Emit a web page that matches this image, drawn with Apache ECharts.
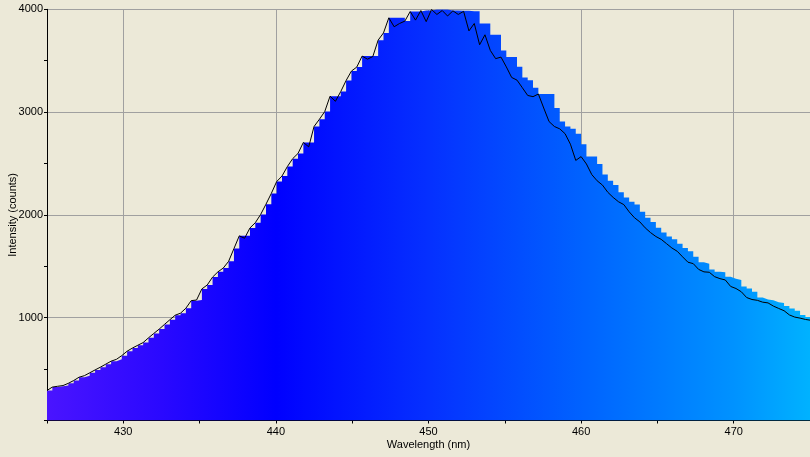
<!DOCTYPE html>
<html>
<head>
<meta charset="utf-8">
<script src="https://cdn.jsdelivr.net/npm/echarts@6/dist/echarts.min.js"></script>
<style>html,body{margin:0;padding:0;background:#ECE9D8;}#c{width:810px;height:457px;}</style>
</head>
<body>
<div id="c"></div>
<script>
// Wavelength grid (nm)
var wavelengths = [
425.00,425.35,425.70,426.05,426.40,426.75,427.10,427.45,427.80,428.15,
428.50,428.85,429.20,429.55,429.90,430.25,430.60,430.95,431.30,431.65,
432.00,432.35,432.70,433.05,433.40,433.75,434.10,434.45,434.80,435.15,
435.50,435.85,436.20,436.55,436.90,437.25,437.60,437.95,438.30,438.65,
439.00,439.35,439.70,440.05,440.40,440.75,441.10,441.45,441.80,442.15,
442.50,442.85,443.20,443.55,443.90,444.25,444.60,444.95,445.30,445.65,
446.00,446.35,446.70,447.05,447.40,447.75,448.10,448.45,448.80,449.15,
449.50,449.85,450.20,450.55,450.90,451.25,451.60,451.95,452.30,452.65,
453.00,453.35,453.70,454.05,454.40,454.75,455.10,455.45,455.80,456.15,
456.50,456.85,457.20,457.55,457.90,458.25,458.60,458.95,459.30,459.65,
460.00,460.35,460.70,461.05,461.40,461.75,462.10,462.45,462.80,463.15,
463.50,463.85,464.20,464.55,464.90,465.25,465.60,465.95,466.30,466.65,
467.00,467.35,467.70,468.05,468.40,468.75,469.10,469.45,469.80,470.15,
470.50,470.85,471.20,471.55,471.90,472.25,472.60,472.95,473.30,473.65,
474.00,474.35,474.70,475.05
];
// Measured intensity (black trace)
var counts = [
292,325,333,340,362,389,421,436,464,492,
519,548,577,595,631,674,705,732,758,804,
847,889,935,980,1024,1044,1092,1166,1172,1280,
1318,1395,1446,1483,1548,1672,1796,1773,1873,1924,
2004,2104,2209,2324,2378,2470,2547,2598,2705,2662,
2860,2930,3005,3155,3105,3200,3307,3399,3438,3545,
3515,3540,3700,3770,3917,3830,3862,3885,3978,3895,
3988,3880,3998,3950,3988,3935,3985,3950,3980,3790,
3862,3655,3752,3600,3520,3535,3440,3337,3311,3237,
3162,3150,3176,3040,2908,2860,2837,2790,2688,2530,
2567,2495,2392,2332,2290,2220,2170,2128,2100,2030,
1972,1932,1874,1828,1790,1762,1720,1678,1646,1592,
1540,1526,1470,1446,1442,1399,1380,1367,1304,1284,
1252,1196,1177,1169,1151,1144,1113,1090,1068,1027,
1006,996,983,975
];
// Coloured stepped fill heights
var fillCounts = [
292,325,333,340,362,389,421,436,464,492,
519,548,577,595,631,674,705,732,758,804,
847,889,935,980,1024,1044,1092,1166,1172,1280,
1318,1395,1446,1483,1548,1672,1796,1796,1873,1924,
2004,2104,2209,2324,2378,2470,2547,2598,2705,2705,
2860,2930,3005,3155,3155,3200,3307,3399,3438,3545,
3545,3545,3700,3770,3917,3917,3917,3885,3978,3978,
3988,3988,3998,3998,3998,3988,3988,3985,3985,3980,
3980,3862,3862,3752,3752,3600,3535,3535,3440,3337,
3311,3237,3176,3176,3176,3040,2908,2860,2837,2790,
2688,2567,2567,2495,2392,2332,2290,2220,2170,2128,
2100,2030,1972,1932,1874,1828,1790,1762,1720,1678,
1646,1592,1540,1526,1470,1446,1442,1399,1380,1367,
1304,1284,1252,1196,1177,1169,1151,1144,1113,1090,
1068,1027,1006,996
];
var yTicks = [1000, 2000, 3000, 4000];
var xLabelTicks = [430, 440, 450, 460, 470];

var linePts = wavelengths.map(function (w, i) { return [w, counts[i]]; });
var fillPts = wavelengths.map(function (w, i) { return [w, fillCounts[i]]; });

var FONT = 'Liberation Sans';
var chart = echarts.init(document.getElementById('c'), null, {renderer: 'canvas'});
chart.setOption({
  backgroundColor: '#ECE9D8',
  animation: false,
  grid: {left: 47, right: 0, top: 9.3, bottom: 36.5, outerBoundsMode: 'none', containLabel: false},
  xAxis: {
    type: 'value', min: 425, max: 475, interval: 5,
    name: 'Wavelength (nm)', nameLocation: 'middle', nameGap: 19, nameMoveOverlap: false,
    nameTextStyle: {color: '#000', fontFamily: FONT, fontSize: 11},
    axisLine: {show: true, onZero: false, lineStyle: {color: '#000', width: 1}},
    axisTick: {show: true, inside: false, length: 3, lineStyle: {color: '#000'}},
    axisLabel: {color: '#000', fontFamily: FONT, fontSize: 11, margin: 6,
      formatter: function (v) { return xLabelTicks.indexOf(Math.round(v)) >= 0 ? String(Math.round(v)) : ''; }},
    splitLine: {show: true, lineStyle: {color: ['rgba(0,0,0,0)', '#A0A0A0'], width: 1}}
  },
  yAxis: {
    type: 'value', min: 0, max: 4000, interval: 1000,
    name: 'Intensity (counts)', nameLocation: 'middle', nameGap: 29, nameRotate: 90, nameMoveOverlap: false,
    nameTextStyle: {color: '#000', fontFamily: FONT, fontSize: 11},
    axisLine: {show: true, onZero: false, lineStyle: {color: '#000', width: 1}},
    axisTick: {show: true, length: 3, lineStyle: {color: '#000'}},
    minorTick: {show: true, splitNumber: 2, length: 3, lineStyle: {color: '#000'}},
    axisLabel: {color: '#000', fontFamily: FONT, fontSize: 11, margin: 4, showMinLabel: false,
      formatter: function (v) { return yTicks.indexOf(v) >= 0 ? String(v) : ''; }},
    splitLine: {show: true, showMinLine: false, lineStyle: {color: '#A0A0A0', width: 1}}
  },
  series: [
    {
      type: 'line', data: fillPts, step: 'end', showSymbol: false, symbol: 'none',
      z: 2, silent: true, clip: true,
      lineStyle: {width: 0, opacity: 0},
      areaStyle: {
        origin: 'start', opacity: 1,
        color: {type: 'linear', x: 47, y: 0, x2: 810, y2: 0, global: true, colorStops: [
          {offset: 0.00, color: '#4A14FF'},
          {offset: 0.15, color: '#2A08FF'},
          {offset: 0.30, color: '#0000FF'},
          {offset: 0.50, color: '#0530FF'},
          {offset: 0.70, color: '#0062FF'},
          {offset: 0.90, color: '#0092FF'},
          {offset: 1.00, color: '#00B2FF'}
        ]}
      }
    },
    {
      type: 'line', data: linePts, showSymbol: false, symbol: 'none',
      z: 3, silent: true, clip: true,
      lineStyle: {color: '#000000', width: 1}
    }
  ]
});
</script>
</body>
</html>
